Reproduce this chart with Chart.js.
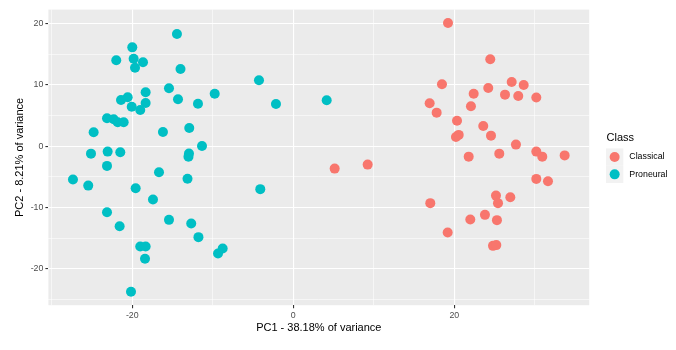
<!DOCTYPE html>
<html>
<head>
<meta charset="utf-8">
<title>PCA</title>
<script src="https://cdn.jsdelivr.net/npm/chart.js@4/dist/chart.umd.min.js"></script>
<style>
  body { margin: 0; background: #ffffff; }
  #wrap { width: 676px; height: 350px; }
</style>
</head>
<body>
<div id="wrap"><canvas id="pcaChart" width="676" height="350"></canvas></div>
<script>
// values
const classes = ['Classical', 'Proneural'];

const classicalX = [19.22, 24.47, 18.47, 27.13, 28.62, 24.22, 22.41, 26.30, 27.95, 30.19, 16.94, 17.81, 22.07,
    20.34, 23.60, 24.56, 20.55, 20.21, 27.66, 21.79, 25.59, 30.19, 30.93, 33.71, 30.19, 31.64, 17.02, 25.18,
    26.96, 25.43, 23.81, 21.99, 25.30, 19.18, 24.81, 25.22, 5.14, 9.24];
const classicalY = [20.05, 14.14, 10.07, 10.44, 9.96, 9.47, 8.54, 8.38, 8.16, 7.92, 6.98, 5.45, 6.49,
    4.14, 3.28, 1.70, 1.82, 1.49, 0.24, -1.72, -1.23, -0.90, -1.72, -1.52, -5.35, -5.72, -9.30, -8.07,
    -8.33, -9.30, -11.21, -11.97, -12.07, -14.09, -16.26, -16.14, -3.67, -3.02];

const proneuralX = [-14.45, -20.00, -21.99, -19.83, -18.67, -19.66, -14.01, -15.44, -18.34, -20.57, -21.40, -14.32,
    -11.84, -18.34, -20.07, -19.01, -23.14, -22.31, -21.81, -21.07, -24.80, -16.19, -12.92, -11.34, -25.13,
    -23.06, -21.49, -12.96, -13.02, -23.14, -27.37, -25.47, -16.68, -13.14, -19.58, -17.43, -23.14, -15.44,
    -21.57, -12.68, -11.78, -19.01, -18.34, -18.42, -20.16, -4.26, -9.76, -2.15, 4.15, -4.10, -8.77, -9.35];
const proneuralY = [18.26, 16.09, 13.98, 14.24, 13.65, 12.77, 12.56, 9.42, 8.77, 7.95, 7.51, 7.63,
    6.91, 7.02, 6.42, 5.89, 4.53, 4.37, 3.88, 3.88, 2.25, 2.30, 2.95, 0.02, -1.23,
    -0.90, -1.00, -1.20, -1.72, -3.23, -5.46, -6.44, -4.26, -5.32, -6.86, -8.72, -10.77, -12.02,
    -13.05, -12.63, -14.84, -16.37, -16.37, -18.37, -23.74, 10.72, 8.54, 6.86, 7.46, -7.02, -16.70, -17.51];

// grid lines (major + minor) and the labelled ones
const xGridValues = [-30, -20, -10, 0, 10, 20, 30];
const xTickLabels = [-20, 0, 20];
const yGridValues = [-25, -20, -15, -10, -5, 0, 5, 10, 15, 20];
const yTickLabels = [-20, -10, 0, 10, 20];

const xTitle = 'PC1 - 38.18% of variance';
const yTitle = 'PC2 - 8.21% of variance';
const legendTitle = 'Class';

Chart.defaults.font.family = '"Liberation Sans", Arial, sans-serif';

const toPoints = (xs, ys) => xs.map((x, i) => ({ x: x, y: ys[i] }));

// grey panel behind the grid
const panelBackground = {
    id: 'panelBackground',
    beforeDraw(chart) {
        const { ctx, chartArea } = chart;
        ctx.save();
        ctx.fillStyle = '#EBEBEB';
        ctx.fillRect(chartArea.left, chartArea.top, chartArea.right - chartArea.left, chartArea.bottom - chartArea.top);
        ctx.restore();
    }
};

// ggplot style legend on the right
const ggLegend = {
    id: 'ggLegend',
    afterDraw(chart) {
        const ctx = chart.ctx;
        const left = 606;
        const key = 17.3;
        const top = 148.4;
        ctx.save();
        ctx.fillStyle = '#000000';
        ctx.font = '11px "Liberation Sans", Arial, sans-serif';
        ctx.textBaseline = 'middle';
        ctx.textAlign = 'left';
        ctx.fillText(legendTitle, left + 0.5, 137.5);

        ctx.font = '8.8px "Liberation Sans", Arial, sans-serif';
        chart.data.datasets.forEach((ds, i) => {
            const y = top + i * key;
            ctx.fillStyle = '#F2F2F2';
            ctx.fillRect(left, y, key, key);
            ctx.fillStyle = ds.backgroundColor;
            ctx.beginPath();
            ctx.arc(left + key / 2, y + key / 2, 5, 0, Math.PI * 2);
            ctx.fill();
            ctx.fillStyle = '#000000';
            ctx.fillText(ds.label, 629.3, y + key / 2);
        });
        ctx.restore();
    }
};

const isMajor = (list, v) => list.includes(v);

const ctx = document.getElementById('pcaChart').getContext('2d');
const pcaChart = new Chart(ctx, {
    type: 'scatter',
    data: {
        datasets: [{
            label: classes[0],
            data: toPoints(classicalX, classicalY),
            backgroundColor: '#F8766D',
            borderWidth: 0,
            pointRadius: 5,
            pointHoverRadius: 5
        }, {
            label: classes[1],
            data: toPoints(proneuralX, proneuralY),
            backgroundColor: '#00BFC4',
            borderWidth: 0,
            pointRadius: 5,
            pointHoverRadius: 5
        }]
    },
    options: {
        responsive: false,
        animation: false,
        layout: {
            padding: { left: 0, top: 9.6, right: 86.8, bottom: 0 }
        },
        plugins: {
            legend: { display: false },
            tooltip: { enabled: false }
        },
        scales: {
            x: {
                type: 'linear',
                min: -30.42,
                max: 36.76,
                afterBuildTicks: axis => { axis.ticks = xGridValues.map(v => ({ value: v })); },
                afterFit: axis => { axis.height = 44.8; },
                border: { display: false },
                grid: {
                    color: '#FFFFFF',
                    lineWidth: c => isMajor(xTickLabels, c.tick.value) ? 1.1 : 0.55,
                    tickLength: 3,
                    tickWidth: 1.1,
                    tickColor: c => isMajor(xTickLabels, c.tick.value) ? '#333333' : 'rgba(0,0,0,0)'
                },
                ticks: {
                    autoSkip: false,
                    maxRotation: 0,
                    padding: 2,
                    color: '#4D4D4D',
                    font: { size: 8.8 },
                    callback: v => isMajor(xTickLabels, v) ? String(v) : ''
                },
                title: {
                    display: true,
                    text: xTitle,
                    color: '#000000',
                    font: { size: 11 },
                    padding: { top: 0, bottom: 15.5 }
                }
            },
            y: {
                type: 'linear',
                min: -25.93,
                max: 22.24,
                afterBuildTicks: axis => { axis.ticks = yGridValues.map(v => ({ value: v })); },
                afterFit: axis => { axis.width = 48.4; },
                border: { display: false },
                grid: {
                    color: '#FFFFFF',
                    lineWidth: c => isMajor(yTickLabels, c.tick.value) ? 1.1 : 0.55,
                    tickLength: 3,
                    tickWidth: 1.1,
                    tickColor: c => isMajor(yTickLabels, c.tick.value) ? '#333333' : 'rgba(0,0,0,0)'
                },
                ticks: {
                    autoSkip: false,
                    padding: 2,
                    color: '#4D4D4D',
                    font: { size: 8.8 },
                    callback: v => isMajor(yTickLabels, v) ? String(v) : ''
                },
                title: {
                    display: true,
                    text: yTitle,
                    color: '#000000',
                    font: { size: 11 },
                    padding: { top: 13.5, bottom: 0 }
                }
            }
        }
    },
    plugins: [panelBackground, ggLegend]
});
</script>
</body>
</html>
